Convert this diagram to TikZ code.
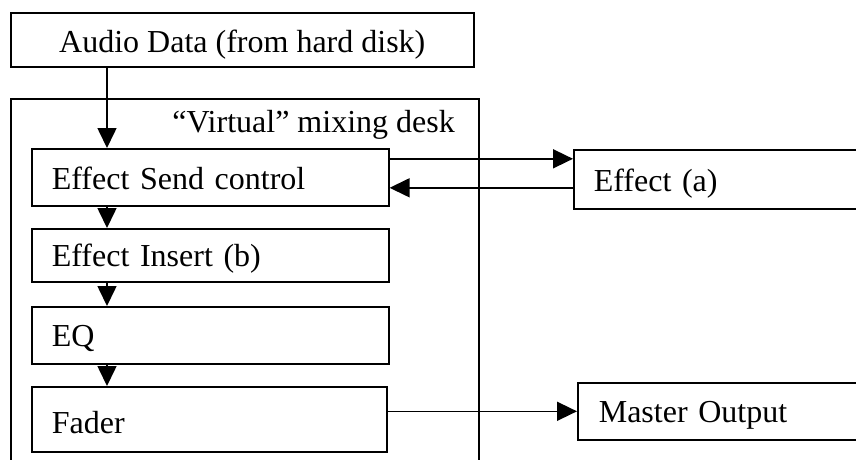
\documentclass[tikz,border=0pt]{standalone}
\usepackage{fontspec}
\setmainfont{Liberation Serif}
\usetikzlibrary{arrows.meta}
\begin{document}
\begin{tikzpicture}[x=1pt,y=-1pt,
  every node/.style={font=\fontsize{32}{38}\selectfont},
  box/.style={draw, line width=1.6pt, anchor=north west, inner ysep=0pt,
    text height=22pt, text depth=0pt},
  lbox/.style={box, inner xsep=20pt, align=left},
  arr/.style={line width=1.6pt, -{Triangle[length=20pt,width=19pt]}}]
\useasboundingbox (0,0) rectangle (856,459);
\begin{scope}
\clip (0,0) rectangle (856,459);
\node[box, text height=26pt, minimum width=463pt, minimum height=54pt] (audio) at (10,12) {Audio Data (from hard disk)};
\node[box, minimum width=468pt, minimum height=380pt] (desk) at (10,98) {};
\node[anchor=base east, inner sep=0pt] (desklbl) at (455,132) {“Virtual” mixing desk};
\node[lbox, text height=24pt, text width=317pt, minimum height=57pt] (send) at (31,148) {Effect Send control};
\node[lbox, text height=23pt, text width=317pt, minimum height=53pt] (insert) at (31,228) {Effect Insert (b)};
\node[lbox, text width=317pt, minimum height=57pt] (eq) at (31,306) {EQ};
\node[lbox, text height=28pt, text width=315pt, minimum height=65pt] (fader) at (31,386) {Fader};
\node[lbox, text height=25pt, text width=260pt, minimum height=59pt] (effect) at (573,149) {Effect (a)};
\node[lbox, inner xsep=21pt, text width=258pt, minimum height=57pt] (master) at (577,382) {Master Output};
\coordinate (vx) at (107,0);
\draw[arr] (audio.south -| vx) -- (send.north -| vx);
\draw[arr] (send.south -| vx) -- (insert.north -| vx);
\draw[arr] (insert.south -| vx) -- (eq.north -| vx);
\draw[arr] (eq.south -| vx) -- (fader.north -| vx);
\draw[arr] ([yshift=18.5pt]send.east) -- ([yshift=18.5pt]send.east -| effect.west);
\draw[arr] ([yshift=-8.5pt]effect.west) -- ([yshift=-8.5pt]effect.west -| send.east);
\draw[arr] (fader.east |- master.west) -- (master.west);
\end{scope}
\end{tikzpicture}
\end{document}
